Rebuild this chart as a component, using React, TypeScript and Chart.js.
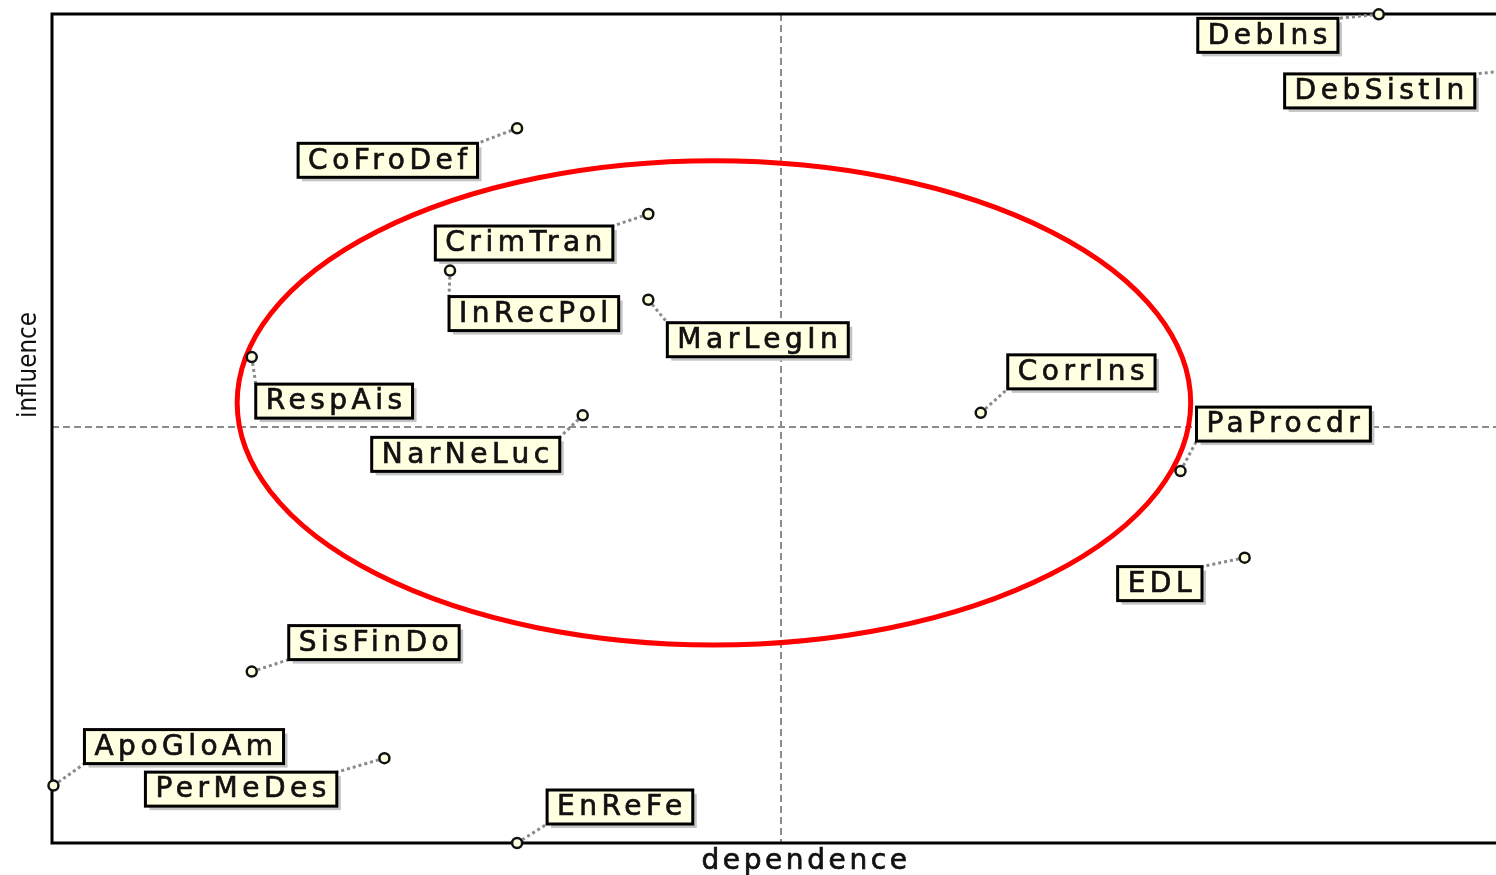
import React, { useEffect, useRef } from "react";
import { Chart, registerables } from "chart.js";

Chart.register(...registerables);

// Variables (MICMAC influence / dependence map)
const variables = [
  "DebIns", "DebSistIn", "CoFroDef", "CrimTran", "InRecPol", "MarLegIn", "RespAis",
  "NarNeLuc", "CorrIns", "PaProcdr", "EDL", "SisFinDo", "ApoGloAm", "PerMeDes", "EnReFe",
];
const dependence = [91.0, 99.7, 31.9, 40.9, 27.3, 40.9, 13.7, 36.4, 63.7, 77.4, 81.8, 13.7, 0.1, 22.8, 31.9];
const influence = [99.6, 92.8, 85.9, 75.6, 68.8, 65.3, 58.4, 51.4, 51.7, 44.7, 34.3, 20.6, 6.9, 10.2, 0.0];

// Axis ranges and crosshair (mean) values
const X_MIN = 0;
const X_MAX = 99.04;
const Y_MIN = 0;
const Y_MAX = 99.64;
const X_MID = 50;
const Y_MID = 50;

// Highlighted cluster ellipse (data units)
const ellipseCenter = [45.4, 52.9];
const ellipseRadii = [32.7, 29.1];

// Label box placement relative to each point (pixels)
const labelDx = [-181, -221, -219, -213, -1, 19, 4, -211, 27, 16, -127, 37, 31, -239, 30];
const labelDy = [4, 3, 15, 12, 26, 23, 27, 22, -58, -64, 9, -46, -56, 14, -53];

const xTitle = "dependence";
const yTitle = "influence";

const FONT = "DejaVu Sans";
const SPACING = "4.5px";
const PAD = 10;
const BOX_H = 34;

function boxFor(ctx: CanvasRenderingContext2D, i: number, px: number, py: number) {
  const w = ctx.measureText(variables[i]).width + 2 * PAD - 4;
  return { bx: px + labelDx[i], by: py + labelDy[i], w, h: BOX_H };
}

const overlayPlugin = {
  id: "micmacOverlay",
  beforeDatasetsDraw(chart: any) {
    const { ctx, chartArea, scales } = chart;
    const xs = scales.x;
    const ys = scales.y;
    ctx.save();
    // crosshair
    ctx.strokeStyle = "#8c8c8c";
    ctx.lineWidth = 2;
    ctx.setLineDash([7, 4]);
    const cx = xs.getPixelForValue(X_MID);
    const cy = ys.getPixelForValue(Y_MID);
    ctx.beginPath();
    ctx.moveTo(cx, chartArea.top);
    ctx.lineTo(cx, chartArea.bottom);
    ctx.moveTo(chartArea.left, cy);
    ctx.lineTo(chartArea.right, cy);
    ctx.stroke();
    ctx.setLineDash([]);

    // frame (left, top, bottom)
    ctx.strokeStyle = "#000";
    ctx.lineWidth = 3;
    ctx.beginPath();
    ctx.moveTo(chartArea.right + 5, chartArea.top);
    ctx.lineTo(chartArea.left, chartArea.top);
    ctx.lineTo(chartArea.left, chartArea.bottom);
    ctx.lineTo(chartArea.right + 5, chartArea.bottom);
    ctx.stroke();

    // ellipse
    const ex = xs.getPixelForValue(ellipseCenter[0]);
    const ey = ys.getPixelForValue(ellipseCenter[1]);
    const rx = Math.abs(xs.getPixelForValue(ellipseCenter[0] + ellipseRadii[0]) - ex);
    const ry = Math.abs(ys.getPixelForValue(ellipseCenter[1] + ellipseRadii[1]) - ey);
    ctx.strokeStyle = "#ff0000";
    ctx.lineWidth = 5;
    ctx.beginPath();
    ctx.ellipse(ex, ey, rx, ry, 0, 0, Math.PI * 2);
    ctx.stroke();

    // leader lines
    ctx.font = `28px "${FONT}"`;
    (ctx as any).letterSpacing = SPACING;
    const meta = chart.getDatasetMeta(0);
    meta.data.forEach((pt: any, i: number) => {
      const px = pt.x;
      const py = pt.y;
      const { bx, by, w, h } = boxFor(ctx, i, px, py);
      const corners = [
        [bx, by], [bx + w, by], [bx, by + h], [bx + w, by + h],
      ];
      let best = corners[0];
      let bd = Infinity;
      corners.forEach((c) => {
        const d = (c[0] - px) ** 2 + (c[1] - py) ** 2;
        if (d < bd) { bd = d; best = c; }
      });
      ctx.strokeStyle = "#8a8a8a";
      ctx.lineWidth = 3;
      ctx.setLineDash([3, 3]);
      ctx.beginPath();
      ctx.moveTo(px, py);
      ctx.lineTo(best[0], best[1]);
      ctx.stroke();
      ctx.setLineDash([]);
    });
    ctx.restore();
  },
  afterDatasetsDraw(chart: any) {
    const { ctx, chartArea } = chart;
    ctx.save();
    ctx.font = `28px "${FONT}"`;
    (ctx as any).letterSpacing = SPACING;
    const meta = chart.getDatasetMeta(0);
    meta.data.forEach((pt: any, i: number) => {
      const { bx, by, w, h } = boxFor(ctx, i, pt.x, pt.y);
      // shadow
      ctx.fillStyle = "#c4c4c4";
      ctx.fillRect(bx + 4, by + 4, w, h);
      // box
      ctx.fillStyle = "#ffffe1";
      ctx.fillRect(bx, by, w, h);
      ctx.strokeStyle = "#000";
      ctx.lineWidth = 3;
      ctx.strokeRect(bx, by, w, h);
      ctx.fillStyle = "#111";
      ctx.strokeStyle = "#111";
      ctx.lineWidth = 0.7;
      ctx.textBaseline = "middle";
      ctx.textAlign = "left";
      ctx.fillText(variables[i], bx + PAD, by + h / 2 + 1);
      ctx.strokeText(variables[i], bx + PAD, by + h / 2 + 1);
    });

    // axis titles
    ctx.fillStyle = "#111";
    ctx.strokeStyle = "#111";
    ctx.lineWidth = 0.7;
    ctx.textAlign = "center";
    ctx.textBaseline = "middle";
    ctx.font = `28px "${FONT}"`;
    (ctx as any).letterSpacing = "3.6px";
    const tx = (chartArea.left + chartArea.right) / 2 + 32;
    const ty = chartArea.bottom + 19;
    ctx.fillText(xTitle, tx, ty);
    ctx.strokeText(xTitle, tx, ty);
    (ctx as any).letterSpacing = "0px";
    ctx.font = `27px "${FONT}"`;
    ctx.translate(29, 365);
    ctx.rotate(-Math.PI / 2);
    ctx.fillText(yTitle, 0, 0, 106);
    ctx.restore();
  },
};

export default function App() {
  const canvasRef = useRef<HTMLCanvasElement | null>(null);
  useEffect(() => {
    document.body.style.margin = "0";
    document.body.style.overflow = "hidden";
    const canvas = canvasRef.current;
    if (!canvas) return;
    const chart = new Chart(canvas, {
      type: "scatter",
      data: {
        datasets: [
          {
            data: dependence.map((x, i) => ({ x, y: influence[i] })),
            pointStyle: "circle",
            pointRadius: 5,
            pointBorderWidth: 2.5,
            pointBorderColor: "#111",
            pointBackgroundColor: "#ffffe1",
            clip: false as any,
          },
        ],
      },
      options: {
        animation: false,
        responsive: true,
        maintainAspectRatio: false,
        layout: { autoPadding: false, padding: { left: 52, top: 14, right: 0, bottom: 32 } },
        plugins: { legend: { display: false }, tooltip: { enabled: false } },
        scales: {
          x: { type: "linear", min: X_MIN, max: X_MAX, display: false },
          y: { type: "linear", min: Y_MIN, max: Y_MAX, display: false },
        },
      },
      plugins: [overlayPlugin],
    });
    return () => chart.destroy();
  }, []);
  return (
    <div style={{ position: "fixed", left: 0, top: 0, width: 1496, height: 875, background: "#fff" }}>
      <canvas ref={canvasRef} />
    </div>
  );
}
